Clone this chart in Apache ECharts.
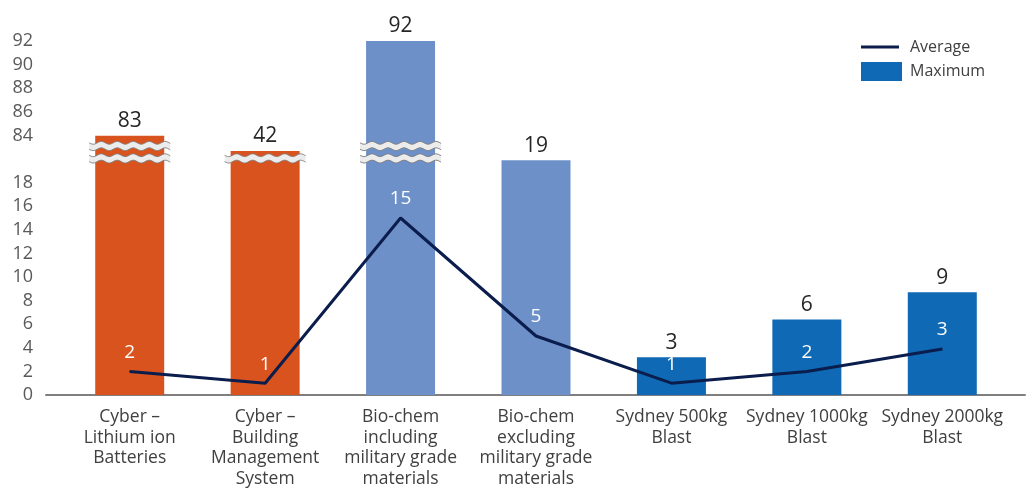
<!DOCTYPE html>
<html>
<head>
<meta charset="utf-8">
<script src="https://cdn.jsdelivr.net/npm/echarts@6/dist/echarts.min.js"></script>
<style>
  html, body { margin: 0; padding: 0; background: #ffffff; }
  #chart { width: 1026px; height: 492px; }
</style>
</head>
<body>
<div id="chart"></div>
<script>
// ---------------- data ----------------
const categories = [
  'Cyber –\nLithium ion\nBatteries',
  'Cyber –\nBuilding\nManagement\nSystem',
  'Bio-chem\nincluding\nmilitary grade\nmaterials',
  'Bio-chem\nexcluding\nmilitary grade\nmaterials',
  'Sydney 500kg\nBlast',
  'Sydney 1000kg\nBlast',
  'Sydney 2000kg\nBlast'
];
const categoryGroups = ['cyber', 'cyber', 'biochem', 'biochem', 'blast', 'blast', 'blast'];
const maximumValues = [83, 42, 92, 19.9, 3.2, 6.4, 8.7];
const maximumLabels = ['83', '42', '92', '19', '3', '6', '9'];
const averageValues = [2, 1, 15, 5, 1, 2, 3.9];
const averageLabels = ['2', '1', '15', '5', '1', '2', '3'];
const lowerTicks = [0, 2, 4, 6, 8, 10, 12, 14, 16, 18];
const upperTicks = [84, 86, 88, 90, 92];

// ---------------- broken axis scale ----------------
const BREAK_LO = 20;      // values up to here are drawn as-is
const BREAK_HI = 84;      // values from here on are shifted down
const DISPLAY_HI = 22;    // display position of BREAK_HI
function toDisplay(v) {
  if (v <= BREAK_LO) return v;
  if (v >= BREAK_HI) return v - BREAK_HI + DISPLAY_HI;
  return BREAK_LO + (v - BREAK_LO) / (BREAK_HI - BREAK_LO) * (DISPLAY_HI - BREAK_LO);
}
function tickText(d) {
  if (lowerTicks.indexOf(d) >= 0) return String(d);
  const real = d - DISPLAY_HI + BREAK_HI;
  if (upperTicks.indexOf(real) >= 0) return String(real);
  return '';
}

// ---------------- styles ----------------
const groupColors = { cyber: '#d9531e', biochem: '#6d90c9', blast: '#0f69b4' };
const lineColor = '#0b1d4c';
const FONT = '"Open Sans", sans-serif';
const BAR_W = 69;
const bandLevels = [20.05, 21.1];

function bandGroup(cx, cy, halfW) {
  const period = 16, amp = 1.4, half = 3.2;
  const top = [], bot = [];
  for (let x = -halfW; x <= halfW + 0.01; x += 1) {
    const s = amp * Math.sin(2 * Math.PI * (x + halfW) / period);
    top.push([cx + x, cy - half + s]);
    bot.push([cx + x, cy + half + s]);
  }
  const poly = top.concat(bot.slice().reverse());
  return [
    { type: 'polygon', shape: { points: poly }, style: { fill: '#ececec', stroke: null } },
    { type: 'polyline', shape: { points: top }, style: { stroke: '#7a7a7a', lineWidth: 0.9, fill: null } },
    { type: 'polyline', shape: { points: bot }, style: { stroke: '#7a7a7a', lineWidth: 0.9, fill: null } }
  ];
}

const chart = echarts.init(document.getElementById('chart'), null, { renderer: 'canvas' });
chart.setOption({
  animation: false,
  backgroundColor: '#ffffff',
  textStyle: { fontFamily: FONT },
  grid: [
    { left: 62, right: 16, top: 41, bottom: 97, containLabel: false, outerBoundsMode: 'none' },
    { left: 46, right: 1, top: 41, bottom: 97, containLabel: false, outerBoundsMode: 'none' }
  ],
  legend: [
    {
      data: ['Average'], icon: 'rect', itemWidth: 38, itemHeight: 3,
      left: 861, top: 37, padding: 0,
      textStyle: { fontSize: 16, color: '#404040', fontFamily: FONT, lineHeight: 20, padding: [0, 0, 0, 6] }
    },
    {
      data: ['Maximum'], icon: 'rect', itemWidth: 41, itemHeight: 19,
      left: 861, top: 61.5, padding: 0,
      textStyle: { fontSize: 16, color: '#404040', fontFamily: FONT, lineHeight: 20, padding: [0, 0, 0, 3] }
    }
  ],
  xAxis: [
    {
      type: 'category', gridIndex: 0, data: categories,
      axisLine: { show: false }, axisTick: { show: false },
      axisLabel: { interval: 0, margin: 12, fontSize: 17.5, lineHeight: 20.5, color: '#404040', fontFamily: FONT }
    },
    {
      type: 'value', gridIndex: 1, min: 0, max: 1,
      axisLine: { show: true, lineStyle: { color: '#7f7f7f', width: 2 } },
      axisTick: { show: false }, axisLabel: { show: false }, splitLine: { show: false }
    }
  ],
  yAxis: [
    {
      type: 'value', gridIndex: 0, min: 0, max: 30, interval: 2,
      axisLine: { show: false }, axisTick: { show: false }, splitLine: { show: false },
      axisLabel: { margin: 29, fontSize: 18, color: '#595959', fontFamily: FONT, formatter: tickText }
    },
    { type: 'value', gridIndex: 1, show: false, min: 0, max: 1 }
  ],
  series: [
    {
      name: 'Maximum', type: 'bar', xAxisIndex: 0, yAxisIndex: 0,
      barWidth: BAR_W, z: 2,
      itemStyle: { color: groupColors.blast },
      data: maximumValues.map((v, i) => ({
        value: toDisplay(v),
        itemStyle: { color: groupColors[categoryGroups[i]] }
      })),
      label: {
        show: true, position: 'top', distance: 4,
        fontSize: 21, color: '#262626', fontFamily: FONT,
        formatter: p => maximumLabels[p.dataIndex]
      }
    },
    {
      name: 'Breaks', type: 'custom', xAxisIndex: 0, yAxisIndex: 0, z: 3,
      silent: true,
      data: maximumValues.map((v, i) => [i, toDisplay(v)]),
      renderItem: function (params, api) {
        const idx = api.value(0);
        const top = api.value(1);
        const children = [];
        bandLevels.forEach(lv => {
          if (top > lv + 0.5) {
            const pt = api.coord([idx, lv]);
            children.push.apply(children, bandGroup(pt[0], pt[1], BAR_W / 2 + 6));
          }
        });
        return { type: 'group', children: children };
      }
    },
    {
      name: 'Average', type: 'line', xAxisIndex: 0, yAxisIndex: 0, z: 4,
      data: averageValues.map(toDisplay),
      symbol: 'circle', symbolSize: 1, showSymbol: true,
      itemStyle: { color: lineColor },
      lineStyle: { color: lineColor, width: 3 },
      label: {
        show: true, position: 'top', distance: 9,
        fontSize: 19, color: '#ffffff', fontFamily: FONT,
        formatter: p => averageLabels[p.dataIndex]
      },
      labelLayout: { hideOverlap: false }
    }
  ]
});
</script>
</body>
</html>
